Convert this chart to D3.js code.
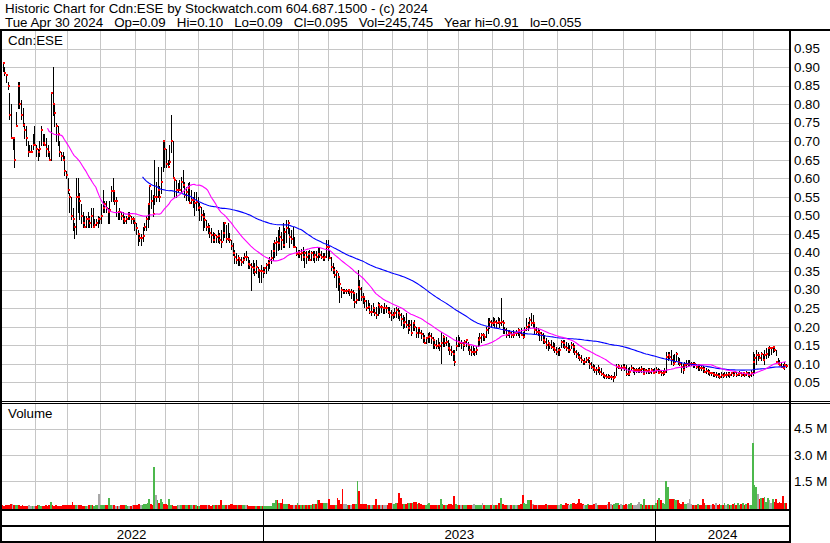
<!DOCTYPE html>
<html><head><meta charset="utf-8">
<script src="https://cdn.jsdelivr.net/npm/d3@7"></script>
<style>
body{margin:0;background:#fff;}
svg{display:block;}
text{font-family:Arial,"Liberation Sans",sans-serif;font-size:13.33px;fill:#000;}
</style>
</head><body>
<svg id="chart" width="830" height="543"></svg>
<script>
// ---------------- DATA ----------------
const header1 = "Historic Chart for Cdn:ESE by Stockwatch.com 604.687.1500 - (c) 2024";
const header2 = "Tue Apr 30 2024   Op=0.09   Hi=0.10   Lo=0.09   Cl=0.095   Vol=245,745   Year hi=0.91   lo=0.055";
const symbol = "Cdn:ESE";

const high = [
.91,.90,.88,.86,.83,.80,.71,.71,.78,.86, .86,.81,.79,.75,.74,.70,.69,.69,.72,.74,
.69,.68,.70,.74,.72,.72,.71,.69,.67,.83, .90,.80,.75,.74,.70,.67,.67,.66,.62,.60,
.56,.55,.52,.48,.60,.60,.56,.53,.51,.50, .50,.51,.50,.52,.52,.49,.49,.50,.495,.53,
.57,.54,.54,.52,.54,.58,.60,.57,.55,.51, .52,.51,.51,.50,.50,.51,.51,.50,.495,.49,
.48,.46,.45,.45,.47,.48,.50,.53,.58,.57, .555,.65,.59,.63,.58,.63,.70,
.70,.68,.65,.69,.77,.70,.60,.596,.587,.596, .605,.623,.591,.578,.587,.591,.569,.551,.564,.564,
.551,.533,.524,.515,.506,.488,.479,.474,.465,.456, .452,.447,.461,.452,.461,.483,.483,.474,.479,.452,
.434,.425,.407,.398,.393,.389,.389,.389,.398,.403, .389,.38,.371,.38,.371,.38,.362,.353,.367,.362,
.362,.371,.38,.389,.407,.425,.434,.443,.461,.47, .456,.479,.465,.488,.488,.465,.461,.47,.443,.416,
.407,.407,.411,.416,.403,.403,.403,.407,.403,.403, .403,.403,.416,.416,.403,.398,
.398,.434,.434,.407,.389,.371,.362,.353,.344,.335, .308,.303,.303,.303,.303,.303,.303,.299,.294,.29,
.353,.326,.308,.29,.281,.272,.272,.263,.259,.263, .254,.254,.268,.263,.259,.254,.263,.259,.254,.254,
.245,.241,.25,.254,.25,.245,.236,.232,.227,.236, .218,.218,.218,.21,.218,.2,.2,.2,.191,.182,
.178,.173,.182,.187,.182,.173,.165,.165,.169,.16, .187,.178,.173,.173,.165,.156,.147,.137,.137,.173,
.178,.173,.165,.16,.165,.165,.16,.151,.147,.147, .142,.147,.173,.182,.182,.182,
.178,.2,.223,.223,.218,.227,.223,.218,.227,.223, .277,.218,.2,.196,.191,.191,.187,.191,.187,.191,
.196,.191,.196,.187,.2,.223,.214,.227,.236,.232, .209,.2,.196,.191,.187,.182,.178,.169,.164,.16,
.164,.16,.155,.146,.142,.146,.164,.164,.164,.16, .155,.151,.16,.155,.151,.137,.133,.128,.124,.11,
.115,.119,.119,.11,.106,.101,.097,.092,.097,.092, .088,.079,.074,.074,.074,.07,.07,.068,.079,.101,
.101,.097,.097,.101,.101,.097,.088,.092,.097,.092, .09,.09,.09,.092,.094,.09,.088,
.085,.088,.088,.088,.085,.088,.092,.088,.085,.084, .084,.088,.133,.133,.133,.137,.124,.128,.133,.119,
.115,.106,.101,.106,.11,.11,.11,.106,.106,.106, .101,.101,.097,.097,.095,.092,.088,.086,.084,.079,
.079,.079,.077,.075,.075,.077,.075,.079,.077,.079, .077,.079,.079,.082,.079,.079,.082,.079,.079,.079,
.082,.079,.079,.084,.133,.128,.137,.133,.128,.133, .128,.137,.142,.146,.148,.146,.148,.146,.137,.115,
.11,.106,.101,.106,.10
];
const low = [
.89,.88,.86,.84,.76,.71,.68,.63,.74,.79, .79,.76,.74,.71,.69,.66,.67,.67,.68,.69,
.66,.65,.66,.69,.69,.69,.66,.66,.65,.65, .77,.74,.70,.69,.66,.65,.65,.61,.60,.56,
.51,.49,.46,.44,.45,.51,.49,.48,.47,.47, .47,.47,.47,.47,.47,.47,.475,.47,.48,.48,
.51,.51,.51,.48,.48,.54,.54,.53,.50,.49, .49,.49,.48,.48,.48,.49,.49,.48,.48,.46,
.45,.42,.43,.42,.43,.46,.46,.47,.49,.52, .50,.53,.54,.55,.54,.56,.62,
.63,.63,.63,.64,.67,.60,.55,.551,.564,.569, .56,.578,.551,.542,.542,.533,.533,.524,.501,.515,
.515,.488,.488,.461,.47,.461,.452,.443,.429,.429, .429,.429,.429,.425,.416,.434,.443,.429,.434,.429,
.411,.393,.371,.371,.367,.367,.367,.371,.38,.38, .358,.358,.299,.344,.34,.344,.335,.322,.322,.335,
.344,.344,.353,.358,.371,.38,.389,.393,.407,.411, .411,.416,.416,.429,.452,.416,.425,.416,.416,.393,
.389,.389,.38,.38,.362,.371,.38,.38,.38,.38, .376,.38,.38,.389,.385,.38,
.38,.389,.38,.385,.353,.344,.335,.308,.299,.268, .281,.29,.29,.29,.29,.286,.277,.272,.254,.263,
.272,.272,.272,.263,.254,.245,.25,.236,.232,.241, .232,.223,.232,.236,.241,.236,.236,.241,.236,.227,
.218,.223,.227,.227,.223,.218,.205,.196,.2,.2, .182,.191,.178,.191,.191,.173,.173,.182,.169,.16,
.156,.156,.16,.16,.156,.142,.142,.142,.142,.137, .102,.147,.147,.151,.137,.128,.124,.111,.097,.137,
.147,.147,.142,.137,.147,.147,.137,.128,.124,.128, .124,.128,.147,.151,.16,.165,
.164,.173,.182,.196,.2,.205,.2,.2,.209,.2, .205,.182,.182,.173,.178,.173,.173,.173,.178,.178,
.178,.173,.178,.169,.178,.191,.191,.2,.205,.2, .182,.182,.178,.164,.164,.155,.155,.142,.137,.142,
.142,.137,.133,.128,.124,.124,.146,.146,.142,.137, .133,.133,.142,.133,.128,.119,.115,.11,.106,.101,
.101,.106,.106,.088,.088,.083,.079,.074,.079,.074, .07,.066,.061,.061,.061,.061,.059,.055,.061,.07,
.088,.088,.083,.088,.083,.07,.07,.07,.083,.079, .074,.079,.079,.079,.079,.074,.079,
.075,.075,.076,.076,.075,.075,.079,.075,.075,.07, .07,.073,.079,.11,.115,.101,.097,.101,.11,.101,
.097,.079,.075,.084,.092,.097,.097,.097,.092,.092, .088,.084,.084,.084,.079,.077,.075,.073,.07,.07,
.068,.068,.066,.064,.061,.066,.064,.068,.066,.068, .066,.07,.068,.07,.068,.07,.07,.068,.07,.068,
.07,.068,.066,.068,.07,.075,.101,.11,.115,.11, .115,.101,.115,.119,.124,.128,.133,.135,.124,.101,
.097,.092,.088,.086,.092,.09
];
const close = [
.91,.885,.88,.85,.77,.71,.71,.65,.74,.85, .80,.77,.745,.73,.71,.67,.67,.67,.69,.69,
.68,.67,.68,.73,.695,.69,.68,.67,.65,.83, .80,.775,.74,.72,.67,.66,.65,.62,.61,.57,
.55,.50,.49,.47,.55,.55,.54,.50,.48,.47, .49,.49,.48,.50,.47,.475,.48,.49,.49,.50,
.52,.53,.52,.51,.515,.565,.565,.54,.54,.51, .51,.50,.49,.485,.49,.50,.50,.49,.49,.48,
.465,.45,.44,.44,.445,.47,.49,.53,.58,.54, .505,.55,.55,.57,.55,.59,.70,
.68,.64,.63,.645,.70,.60,.595,.569,.57,.57, .59,.582,.555,.564,.573,.533,.542,.542,.533,.537,
.519,.524,.501,.497,.488,.47,.47,.452,.447,.434, .447,.443,.445,.434,.429,.452,.479,.438,.438,.434,
.418,.398,.389,.38,.385,.38,.376,.38,.389,.389, .369,.367,.362,.358,.349,.362,.353,.35,.351,.349,
.358,.367,.371,.38,.385,.403,.425,.429,.425,.443, .434,.42,.456,.465,.479,.443,.438,.416,.416,.396,
.398,.396,.398,.389,.398,.389,.396,.38,.398,.389, .393,.389,.396,.393,.389,.385,
.389,.416,.416,.385,.362,.353,.34,.349,.335,.315, .299,.297,.297,.297,.299,.294,.294,.29,.268,.272,
.308,.303,.281,.279,.27,.251,.254,.241,.241,.25, .236,.232,.259,.254,.254,.25,.25,.25,.241,.236,
.232,.232,.236,.245,.236,.232,.22,.21,.214,.205, .196,.205,.182,.21,.2,.182,.196,.182,.18,.169,
.157,.169,.173,.175,.169,.165,.151,.147,.151,.147, .156,.173,.156,.16,.142,.137,.133,.128,.106,.147,
.16,.156,.156,.151,.16,.165,.151,.137,.133,.133, .133,.137,.165,.169,.178,.178,
.173,.191,.2,.214,.209,.209,.214,.209,.214,.209, .214,.209,.191,.178,.182,.182,.178,.178,.182,.182,
.191,.182,.178,.173,.191,.2,.205,.218,.209,.209, .191,.187,.187,.182,.178,.164,.16,.151,.155,.151,
.146,.142,.137,.133,.137,.137,.16,.155,.146,.142, .137,.137,.151,.146,.133,.128,.119,.115,.11,.106,
.106,.11,.115,.101,.092,.088,.083,.083,.088,.079, .074,.07,.068,.066,.066,.064,.064,.061,.066,.092,
.094,.09,.09,.092,.09,.074,.074,.079,.09,.083, .083,.083,.083,.083,.085,.074,.083,
.081,.083,.079,.083,.076,.079,.083,.076,.079,.075, .076,.079,.119,.124,.119,.11,.101,.106,.128,.106,
.101,.092,.084,.097,.101,.101,.101,.101,.1,.101, .092,.097,.09,.088,.086,.079,.081,.079,.075,.075,
.073,.07,.07,.068,.066,.07,.068,.07,.07,.073, .07,.075,.07,.077,.07,.073,.075,.07,.075,.07,
.075,.07,.07,.075,.106,.115,.124,.124,.115,.128, .11,.124,.128,.142,.142,.142,.146,.137,.106,.101,
.097,.092,.088,.097,.095
];
// daily volume, thousands of shares
const volumeK = [
90,60,95,130,110,190,190,130,95,95, 90,60,95,40,40,40,95,60,40,40,
40,95,95,60,60,60,95,60,95,300, 95,60,95,60,40,40,130,130,130,130,
130,95,300,95,95,95,95,95,60,60, 60,60,95,95,95,60,95,95,755,95,
95,95,130,130,528,130,95,95,60,60, 60,95,95,95,130,60,60,60,95,95,
95,130,190,95,95,190,190,250,434,190, 130,2300,700,377,245,434,302,190,190,130,
472,130,130,57,57,94,94,94,130,130, 94,130,130,132,94,94,94,57,57,132,
132,94,94,94,94,57,132,132,132,94, 94,377,94,132,132,132,94,189,189,94,
94,94,132,94,94,94,132,94,57,57, 57,57,57,57,57,57,57,57,38,57,
57,57,245,245,377,377,245,245,434,189, 189,189,189,132,132,132,132,245,132,132,
132,132,94,94,94,94,189,189,189,377, 377,245,245,245,245,245,472,132,132,132,
132,528,377,150,1038,150,150,132,132,132, 189,189,189,1509,943,189,189,189,189,132,
132,132,132,132,472,132,132,132,132,132, 132,132,245,245,189,189,245,245,811,528,
189,189,189,245,245,245,245,302,302,189,
245,189,132,132,94,189,245,132,94,94, 132,94,132,434,189,94,94,132,189,189,
132,620,189,132,94,94,132,94,132,132, 94,94,132,189,94,132,132,94,245,132,
94,132,94,132,189,94,132,132,245,528, 189,132,94,132,94,94,132,94,132,132,
94,189,700,245,189,377,377,377,189,132, 94,132,94,132,94,132,189,132,94,132,
94,132,94,94,132,189,94,132,245,189, 132,189,245,245,189,245,472,245,189,94,
132,189,132,94,132,189,245,132,94,132, 94,132,132,189,300,189,132,189,245,245,
132,189,94,132,189,132,189,245,94,132, 94,189,300,189,94,434,94,132,94,94,
94,94,245,377,528,377,245,189,1509,1150, 472,450,450,450,377,377,245,189,302,189,
189,245,434,189,132,132,94,189,132,132, 434,245,132,132,94,132,189,132,245,132,
189,132,132,245,132,189,132,94,189,245, 132,245,132,189,245,132,189,245,94,132,
3700,1250,1150,750,470,528,528,600,302,528, 377,245,470,302,470,245,302,245,620,250,
245
];
const priceTicks = [0.05,0.10,0.15,0.20,0.25,0.30,0.35,0.40,0.45,0.50,0.55,0.60,0.65,0.70,0.75,0.80,0.85,0.90,0.95];
const volumeTicks = [1.5e6, 3.0e6, 4.5e6];
const volumeTickLabels = ["1.5 M", "3.0 M", "4.5 M"];
// index of first trading day of each month (month gridlines)
const monthStarts = [20,39,59,80,98,118,138,157,178,196,216,234,255,274,294,313,333,354,373,392,413,432,451];
const years = ["2022","2023","2024"];
const yearStarts = [0,157,392];
const maShortPeriod = 28, maLongPeriod = 85;

// ---------------- LAYOUT ----------------
const N = close.length;
const W = 830, H = 543;
const axisX = 790;          // right axis line
const priceTop = 30, priceBottom = 401;
const volTop = 403, volBase = 509;
const bandTop = 510, bandMid = 526, bandBottom = 542;

const svg = d3.select("#chart");
svg.append("rect").attr("width", W).attr("height", H).attr("fill", "#fff");

const x = d3.scaleLinear().domain([0, N - 1]).range([2.5, 2.5 + (N - 1) * 1.667]);
const yP = d3.scaleLinear().domain([0, 1]).range([priceBottom, priceTop]);
const yV = d3.scaleLinear().domain([0, 6e6]).range([507, 402.6]);

const grid = svg.append("g").attr("stroke", "#c6c6c6").attr("stroke-width", 1).attr("shape-rendering", "crispEdges");
// vertical month gridlines
monthStarts.forEach(m => {
  const gx = Math.round(x(m - 0.5)) + 0.5;
  grid.append("line").attr("x1", gx).attr("x2", gx).attr("y1", priceTop).attr("y2", priceBottom);
  grid.append("line").attr("x1", gx).attr("x2", gx).attr("y1", volTop).attr("y2", volBase);
});
priceTicks.forEach(t => {
  const gy = Math.round(yP(t)) + 0.5;
  grid.append("line").attr("x1", 2).attr("x2", axisX - 1).attr("y1", gy).attr("y2", gy);
});
volumeTicks.forEach(t => {
  const gy = Math.round(yV(t)) + 0.5;
  grid.append("line").attr("x1", 2).attr("x2", axisX - 1).attr("y1", gy).attr("y2", gy);
});

// ---------------- PRICE BARS ----------------
const bars = svg.append("g").attr("shape-rendering", "crispEdges");
bars.selectAll("rect.hl").data(close).join("rect").attr("class", "hl")
  .attr("x", (d, i) => Math.round(x(i)) - 0.5)
  .attr("y", (d, i) => Math.round(yP(high[i])))
  .attr("width", 1.4)
  .attr("height", (d, i) => Math.max(1, Math.round(yP(low[i])) - Math.round(yP(high[i])) + 1))
  .attr("fill", "#000");
bars.selectAll("rect.cl").data(close).join("rect").attr("class", "cl")
  .attr("x", (d, i) => Math.round(x(i)))
  .attr("y", d => Math.round(yP(d)) - 1)
  .attr("width", 2).attr("height", 2)
  .attr("fill", "#ff0000");

// ---------------- MOVING AVERAGES ----------------
function movingAvg(arr, p) {
  const out = [];
  for (let i = p - 1; i < arr.length; i++) out.push([i, d3.mean(arr.slice(i - p + 1, i + 1))]);
  return out;
}
const line = d3.line().x(d => x(d[0])).y(d => yP(d[1]));
svg.append("path").datum(movingAvg(close, maLongPeriod)).attr("d", line)
  .attr("fill", "none").attr("stroke", "#0000ff").attr("stroke-width", 1.1);
svg.append("path").datum(movingAvg(close, maShortPeriod)).attr("d", line)
  .attr("fill", "none").attr("stroke", "#ff00ff").attr("stroke-width", 1.1);

// ---------------- VOLUME ----------------
const volColor = i => {
  if (i === 0) return "#ff0000";
  if (close[i] > close[i - 1]) return "#4cb84c";
  if (close[i] < close[i - 1]) return "#ff0000";
  return "#a8a8a8";
};
svg.append("g").attr("shape-rendering", "crispEdges")
  .selectAll("rect").data(volumeK).join("rect")
  .attr("x", (d, i) => x(i) - 0.8)
  .attr("width", 1.7)
  .attr("y", d => yV(d * 1000))
  .attr("height", d => volBase - yV(d * 1000))
  .attr("fill", (d, i) => volColor(i));

// ---------------- FRAME ----------------
const frame = svg.append("g").attr("fill", "#000").attr("shape-rendering", "crispEdges");
frame.append("rect").attr("x", 0).attr("y", 29).attr("width", W).attr("height", 2);          // header separator
frame.append("rect").attr("x", 0).attr("y", 29).attr("width", 2).attr("height", H - 29);     // left border
frame.append("rect").attr("x", axisX - 1).attr("y", 29).attr("width", 2).attr("height", H - 29); // right axis
frame.append("rect").attr("x", 0).attr("y", priceBottom).attr("width", W).attr("height", 1);
frame.append("rect").attr("x", 0).attr("y", volTop - 0.5).attr("width", W).attr("height", 1);
frame.append("rect").attr("x", 0).attr("y", bandTop - 1).attr("width", axisX).attr("height", 2);
frame.append("rect").attr("x", 0).attr("y", bandMid - 1).attr("width", axisX).attr("height", 2);
frame.append("rect").attr("x", 0).attr("y", bandBottom - 1).attr("width", axisX).attr("height", 2);
yearStarts.slice(1).forEach(s => {
  frame.append("rect").attr("x", Math.round(x(s - 0.5))).attr("y", bandTop).attr("width", 1).attr("height", bandBottom - bandTop);
});

// ---------------- TEXT ----------------
svg.append("text").attr("x", 5).attr("y", 13).attr("xml:space", "preserve").style("white-space", "pre").text(header1);
svg.append("text").attr("x", 5).attr("y", 27).attr("xml:space", "preserve").style("white-space", "pre").text(header2);
svg.append("text").attr("x", 8).attr("y", 45).text(symbol);
svg.append("text").attr("x", 8).attr("y", 418).text("Volume");

svg.append("g").selectAll("text").data(priceTicks).join("text")
  .attr("x", 794).attr("y", d => yP(d) + 4.7).text(d => d3.format(".2f")(d));
svg.append("g").selectAll("text").data(volumeTicks).join("text")
  .attr("x", 794).attr("y", d => yV(d) + 4.7).text((d, i) => volumeTickLabels[i]);

const yearEnds = yearStarts.slice(1).map(s => x(s - 0.5)).concat([axisX]);
const yearBegins = [0].concat(yearStarts.slice(1).map(s => x(s - 0.5)));
svg.append("g").selectAll("text").data(years).join("text")
  .attr("x", (d, i) => (yearBegins[i] + yearEnds[i]) / 2)
  .attr("y", 539).attr("text-anchor", "middle").text(d => d);
</script>
</body></html>
